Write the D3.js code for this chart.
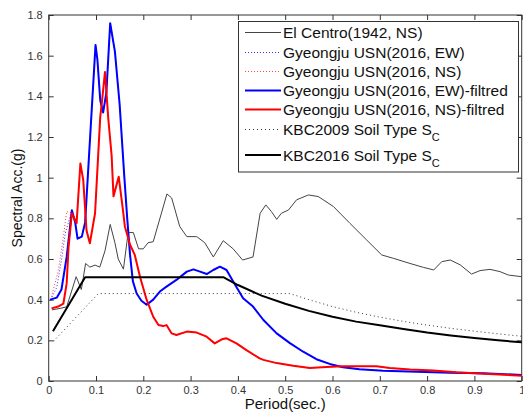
<!DOCTYPE html>
<html>
<head>
<meta charset="utf-8">
<script src="https://cdn.jsdelivr.net/npm/d3@7"></script>
<style>
  body { margin: 0; background: #fff; }
  svg { font-family: Arial, "Liberation Sans", sans-serif; }
</style>
</head>
<body>
<svg id="chart" width="523" height="412"></svg>
<script>
// values
let xTicks = [0, 0.1, 0.2, 0.3, 0.4, 0.5, 0.6, 0.7, 0.8, 0.9, 1];
let yTicks = [0, 0.2, 0.4, 0.6, 0.8, 1, 1.2, 1.4, 1.6, 1.8];

let elCentroT = [0.007,0.024,0.038,0.058,0.069,0.078,0.087,0.098,0.108,0.119,0.13,0.14,0.147,0.158,0.168,0.179,0.19,0.2,0.21,0.221,0.25,0.26,0.277,0.292,0.313,0.33,0.348,0.369,0.39,0.41,0.432,0.447,0.459,0.471,0.482,0.492,0.507,0.524,0.549,0.57,0.602,0.637,0.672,0.704,0.729,0.764,0.792,0.814,0.831,0.849,0.87,0.894,0.912,0.933,0.954,0.972,1.0];
let elCentroSa = [0.35,0.357,0.365,0.513,0.45,0.578,0.56,0.57,0.56,0.64,0.77,0.68,0.6,0.55,0.73,0.73,0.65,0.65,0.68,0.685,0.92,0.9,0.76,0.71,0.71,0.68,0.61,0.69,0.65,0.595,0.61,0.825,0.866,0.833,0.795,0.825,0.841,0.891,0.915,0.907,0.858,0.775,0.694,0.62,0.603,0.578,0.559,0.546,0.587,0.595,0.571,0.526,0.543,0.549,0.538,0.521,0.513];

let ewFiltT = [0.003,0.017,0.027,0.038,0.049,0.056,0.061,0.07,0.077,0.099,0.103,0.109,0.115,0.122,0.13,0.14,0.15,0.16,0.166,0.172,0.178,0.186,0.196,0.207,0.221,0.235,0.249,0.27,0.292,0.306,0.32,0.334,0.348,0.362,0.376,0.39,0.411,0.432,0.454,0.482,0.51,0.538,0.566,0.594,0.622,0.657,0.707,0.778,0.848,0.919,1.0];
let ewFiltSa = [0.40,0.41,0.45,0.61,0.84,0.78,0.70,0.71,0.78,1.653,1.58,1.38,1.32,1.42,1.76,1.62,1.36,1.0,0.80,0.62,0.49,0.43,0.395,0.375,0.40,0.44,0.464,0.497,0.538,0.549,0.538,0.526,0.546,0.562,0.546,0.489,0.407,0.366,0.30,0.234,0.186,0.144,0.107,0.084,0.068,0.058,0.051,0.046,0.041,0.038,0.03];

let nsFiltT = [0.006,0.02,0.031,0.038,0.042,0.049,0.059,0.067,0.073,0.08,0.087,0.098,0.109,0.112,0.119,0.126,0.133,0.137,0.148,0.157,0.161,0.172,0.182,0.193,0.207,0.221,0.232,0.242,0.249,0.26,0.27,0.292,0.313,0.334,0.351,0.366,0.376,0.397,0.418,0.446,0.454,0.482,0.517,0.552,0.587,0.622,0.657,0.693,0.721,0.764,0.813,0.862,0.919,1.0];
let nsFiltSa = [0.357,0.366,0.38,0.48,0.66,0.825,0.776,1.07,0.989,0.74,0.677,0.825,1.30,1.36,1.52,1.29,1.11,0.908,1.005,0.84,0.76,0.67,0.62,0.513,0.40,0.316,0.275,0.27,0.275,0.234,0.226,0.243,0.238,0.218,0.185,0.205,0.21,0.185,0.152,0.111,0.104,0.088,0.075,0.064,0.069,0.072,0.072,0.072,0.064,0.056,0.052,0.043,0.036,0.026];

// unfiltered records: only the short-period part shows, the rest lies under the filtered lines
let ewRawT = [0.004,0.017,0.027,0.035];
let ewRawSa = [0.40,0.46,0.595,0.726];
let nsRawT = [0.006,0.02,0.031,0.038];
let nsRawSa = [0.415,0.54,0.71,0.833];

let kbc2009T = [0.01,0.105,0.51,0.55,0.6,0.65,0.7,0.75,0.8,0.85,0.9,0.95,1.0];
let kbc2009Sa = [0.195,0.43,0.43,0.40,0.366,0.338,0.314,0.293,0.275,0.259,0.245,0.232,0.22];

let kbc2016T = [0.009,0.077,0.37,0.4,0.45,0.5,0.55,0.6,0.65,0.7,0.75,0.8,0.85,0.9,0.95,1.0];
let kbc2016Sa = [0.245,0.51,0.51,0.472,0.42,0.38,0.345,0.316,0.292,0.274,0.256,0.238,0.224,0.211,0.2,0.19];

function zip(t, s) { return t.map((d, i) => [d, s[i]]); }

function getConfig() {
  let margin = {top: 15, left: 48.7, right: 1.3, bottom: 31};
  let width = 523, height = 412;
  let bodyWidth = width - margin.left - margin.right;
  let bodyHeight = height - margin.top - margin.bottom;
  let container = d3.select("#chart");
  return {width, height, margin, bodyWidth, bodyHeight, container};
}

function getScales(config) {
  let xScale = d3.scaleLinear().domain([0, 1]).range([config.margin.left, config.margin.left + config.bodyWidth]);
  let yScale = d3.scaleLinear().domain([0, 1.8]).range([config.margin.top + config.bodyHeight, config.margin.top]);
  return {xScale, yScale};
}

function drawAxes(scales, config) {
  let {container, margin, bodyWidth, bodyHeight} = config;
  let {xScale, yScale} = scales;
  let fmt = d => (d === 0 || d === 1) ? String(d) : d3.format(".1f")(d);
  let bottom = margin.top + bodyHeight, right = margin.left + bodyWidth;

  let styleAxis = g => {
    g.select(".domain").remove();
    g.selectAll(".tick line").attr("stroke", "#333");
    g.selectAll(".tick text").attr("fill", "#333").style("font-size", "11px");
  };

  container.append("g").attr("transform", `translate(0,${bottom})`)
    .call(d3.axisBottom(xScale).tickValues(xTicks).tickFormat(fmt).tickSizeInner(-5).tickSizeOuter(0).tickPadding(5))
    .call(styleAxis);
  container.append("g").attr("transform", `translate(0,${margin.top})`)
    .call(d3.axisTop(xScale).tickValues(xTicks).tickFormat("").tickSizeInner(-5).tickSizeOuter(0))
    .call(styleAxis);
  container.append("g").attr("transform", `translate(${margin.left},0)`)
    .call(d3.axisLeft(yScale).tickValues(yTicks).tickFormat(fmt).tickSizeInner(-5).tickSizeOuter(0).tickPadding(6))
    .call(styleAxis);
  container.append("g").attr("transform", `translate(${right},0)`)
    .call(d3.axisRight(yScale).tickValues(yTicks).tickFormat("").tickSizeInner(-5).tickSizeOuter(0))
    .call(styleAxis);

  container.append("rect")
    .attr("x", margin.left).attr("y", margin.top)
    .attr("width", bodyWidth).attr("height", bodyHeight)
    .attr("fill", "none").attr("stroke", "#333").attr("stroke-width", 1);

  container.append("text")
    .attr("x", margin.left + bodyWidth / 2).attr("y", 409)
    .attr("text-anchor", "middle").style("font-size", "15px").attr("fill", "#111")
    .text("Period(sec.)");
  container.append("text")
    .attr("transform", `translate(22,${margin.top + bodyHeight / 2}) rotate(-90)`)
    .attr("text-anchor", "middle").style("font-size", "14px").attr("fill", "#111")
    .text("Spectral Acc.(g)");
}

let series = [
  {name: "El Centro(1942, NS)", data: zip(elCentroT, elCentroSa), color: "#444", width: 1, dash: null},
  {name: "Gyeongju USN(2016, EW)", data: zip(ewRawT, ewRawSa).concat(zip(ewFiltT, ewFiltSa).filter(d => d[0] >= 0.049)), color: "#3333ff", width: 1, dash: "1,2"},
  {name: "Gyeongju USN(2016, NS)", data: zip(nsRawT, nsRawSa).concat(zip(nsFiltT, nsFiltSa).filter(d => d[0] >= 0.049)), color: "#ff4444", width: 1, dash: "1,2"},
  {name: "Gyeongju USN(2016, EW)-filtred", data: zip(ewFiltT, ewFiltSa), color: "#0000ff", width: 2, dash: null},
  {name: "Gyeongju USN(2016, NS)-filtred", data: zip(nsFiltT, nsFiltSa), color: "#ff0000", width: 2, dash: null},
  {name: "KBC2009 Soil Type S", sub: "C", data: zip(kbc2009T, kbc2009Sa), color: "#333", width: 1, dash: "1,3"},
  {name: "KBC2016 Soil Type S", sub: "C", data: zip(kbc2016T, kbc2016Sa), color: "#000", width: 2, dash: null}
];

function drawLines(scales, config) {
  let {container} = config;
  let {xScale, yScale} = scales;
  let line = d3.line().x(d => xScale(d[0])).y(d => yScale(d[1]));
  container.append("g")
    .selectAll("path")
    .data(series)
    .enter()
    .append("path")
      .attr("d", d => line(d.data))
      .attr("fill", "none")
      .attr("stroke", d => d.color)
      .attr("stroke-width", d => d.width)
      .attr("stroke-dasharray", d => d.dash)
      .attr("stroke-linejoin", "round");
}

function drawLegend(config) {
  let {container} = config;
  let rowY = [32.5, 52.5, 71.5, 90.5, 109.5, 129.5, 155];
  let g = container.append("g");
  g.append("rect")
    .attr("x", 238.5).attr("y", 21.5).attr("width", 280).attr("height", 150.5)
    .attr("fill", "#fff").attr("stroke", "#333").attr("stroke-width", 1);
  let rows = g.selectAll("g.row").data(series).enter().append("g").attr("class", "row")
    .attr("transform", (d, i) => `translate(0,${rowY[i]})`);
  rows.append("line")
    .attr("x1", 245).attr("x2", 281).attr("y1", 0).attr("y2", 0)
    .attr("stroke", d => d.color)
    .attr("stroke-width", d => d.width)
    .attr("stroke-dasharray", d => d.dash);
  let txt = rows.append("text")
    .attr("x", 283).attr("y", 5.5)
    .style("font-size", "15.5px").attr("fill", "#111");
  txt.append("tspan").text(d => d.name);
  txt.filter(d => d.sub).append("tspan")
    .attr("dy", 6).style("font-size", "11px").text(d => d.sub);
}

function showChart() {
  let config = getConfig();
  let scales = getScales(config);
  drawAxes(scales, config);
  drawLines(scales, config);
  drawLegend(config);
}

showChart();
</script>
</body>
</html>
